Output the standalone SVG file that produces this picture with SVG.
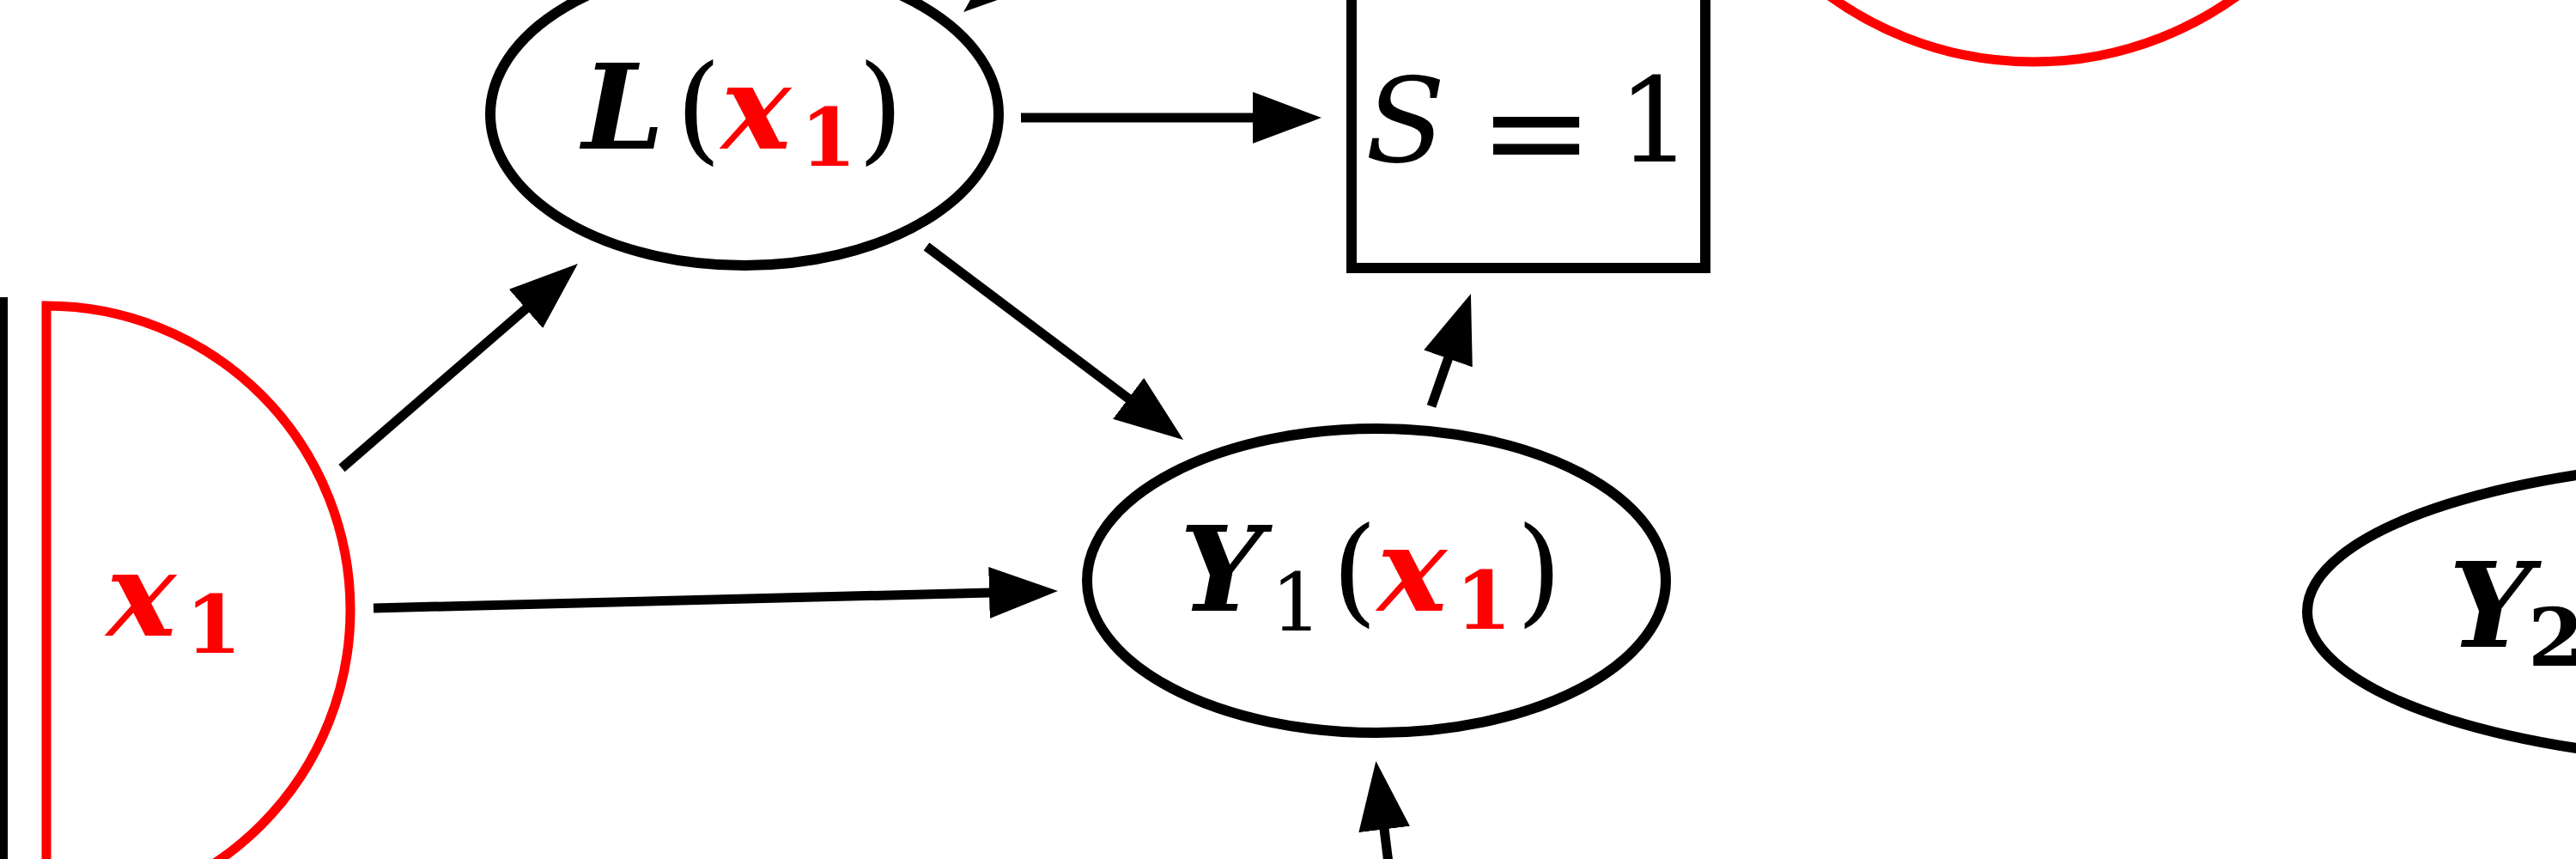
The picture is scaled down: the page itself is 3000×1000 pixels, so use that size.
<svg xmlns="http://www.w3.org/2000/svg" width="3000" height="1000" viewBox="0 0 3000 1000">
<style>
.node{fill:none;stroke:#000;stroke-width:12}
.red{fill:none;stroke:#f00;stroke-width:11}
.edge{fill:none;stroke:#000;stroke-width:11}
.t{font-family:"DejaVu Serif","Liberation Serif",serif;font-size:136px;fill:#000}
.bi{font-weight:bold;font-style:italic}
.it{font-style:italic}
.sub{font-size:94px}
.r{fill:#f00}
</style>
<defs>
<marker id="ah" markerUnits="userSpaceOnUse" viewBox="0 0 80 60" refX="20" refY="30" markerWidth="80" markerHeight="60" orient="auto"><path d="M0,0 L80,30 L0,60 Z" fill="#000"/></marker>
</defs>
<rect width="3000" height="1000" fill="#fff"/>

<g id="X1">
<line x1="4" y1="346" x2="4" y2="1000" stroke="#000" stroke-width="10"/>
</g>

<g id="x1">
<path class="red" d="M54,356 A354,354 0 0 1 54,1064 Z"/>
<text class="t r"><tspan class="bi" x="124" y="740">x</tspan><tspan class="sub" font-weight="bold" x="216" y="760">1</tspan></text>
</g>

<g id="L">
<ellipse class="node" cx="867" cy="133" rx="296" ry="176"/>
<text class="t"><tspan class="bi" x="678" y="173">L</tspan><tspan x="787" y="173">(</tspan><tspan class="bi r" x="840" y="173">x</tspan><tspan class="sub r" font-weight="bold" x="932" y="193">1</tspan><tspan x="999" y="173">)</tspan></text>
</g>

<g id="S">
<rect class="node" x="1574" y="-60" width="412" height="372"/>
<text class="t"><tspan class="it" x="1590" y="188">S</tspan><tspan font-size="160" x="1722" y="208">=</tspan><tspan x="1884" y="188">1</tspan></text>
</g>

<g id="Y1">
<ellipse class="node" cx="1603" cy="676" rx="337" ry="177"/>
<text class="t"><tspan class="bi" x="1374" y="711">Y</tspan><tspan class="sub" x="1480" y="734">1</tspan><tspan x="1551" y="711">(</tspan><tspan class="bi r" x="1604" y="711">x</tspan><tspan class="sub r" font-weight="bold" x="1695" y="732">1</tspan><tspan x="1766" y="711">)</tspan></text>
</g>

<g id="top-red">
<circle class="red" cx="2368" cy="-333" r="405"/>
</g>

<g id="Y2">
<ellipse class="node" cx="3247" cy="712" rx="560" ry="177"/>
<text class="t"><tspan class="bi" x="2852" y="753">Y</tspan><tspan class="sub" font-weight="bold" x="2944" y="775">2</tspan></text>
</g>

<g id="connectors">
<line class="edge" x1="398" y1="545" x2="627.6" y2="346.3" marker-end="url(#ah)"/>
<line class="edge" x1="435" y1="708" x2="1172" y2="689.5" marker-end="url(#ah)"/>
<line class="edge" x1="1189" y1="137" x2="1479" y2="137" marker-end="url(#ah)"/>
<line class="edge" x1="1079" y1="287" x2="1330.1" y2="475.9" marker-end="url(#ah)"/>
<line class="edge" x1="1667" y1="473" x2="1693.1" y2="398.6" marker-end="url(#ah)"/>
<line class="edge" x1="1617.6" y1="1010" x2="1609.7" y2="945.6" marker-end="url(#ah)"/>
<line class="edge" x1="1352" y1="-179" x2="1168" y2="-24.6" marker-end="url(#ah)"/>
</g>
</svg>
